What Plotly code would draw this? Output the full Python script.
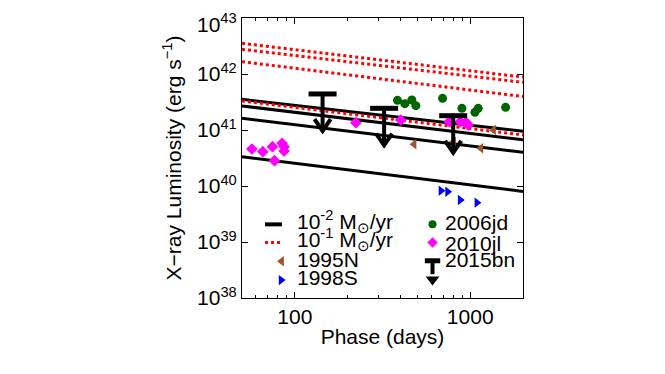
import numpy as np
import plotly.graph_objects as go

# ---------------- data ----------------
phase_model = [50, 2000]
# CSM interaction models, mass-loss rate 1e-2 Msun/yr (black solid)
model_low = [
    [3.53e41, 9.5e40],
    [2.69e41, 6.7e40],
    [1.62e41, 4.0e40],
    [3.33e40, 8.0e39],
]
# mass-loss rate 1e-1 Msun/yr (red dotted)
model_high = [
    [3.53e42, 8.8e41],
    [2.76e42, 7.1e41],
    [1.66e42, 3.95e41],
    [3.30e41, 8.15e40],
]

sn1995N_phase = [479, 804, 1151, 1360]
sn1995N_lum = [5.56e40, 6.18e40, 4.71e40, 1.0e41]

sn1998S_phase = [681, 743, 877, 1092]
sn1998S_lum = [8.24e39, 7.9e39, 5.62e39, 5.04e39]

sn2006jd_phase = [385, 424, 465, 490, 696, 897, 1064, 1111, 1592]
sn2006jd_lum = [3.39e41, 2.95e41, 3.43e41, 2.72e41, 3.68e41, 2.44e41, 2.07e41, 2.44e41, 2.54e41]

sn2010jl_phase = [56.9, 65.7, 74.6, 84.6, 86.9, 86.9, 76.6, 223, 402, 759, 877, 945, 974]
sn2010jl_lum = [4.58e40, 4.1e40, 5.04e40, 5.79e40, 5.04e40, 4.22e40, 2.83e40,
                1.35e41, 1.51e41, 1.41e41, 1.41e41, 1.37e41, 1.23e41]

sn2015bn_phase = [144, 323, 800]
sn2015bn_limit = [4.4e41, 2.44e41, 1.8e41]

x_tickvals = [100, 1000]
x_ticktext = ["100", "1000"]
y_tickvals = [1e38, 1e39, 1e40, 1e41, 1e42, 1e43]
y_ticktext = ["10<sup>38</sup>", "10<sup>39</sup>", "10<sup>40</sup>",
              "10<sup>41</sup>", "10<sup>42</sup>", "10<sup>43</sup>"]

FONT = "Liberation Sans, Arial, Helvetica, sans-serif"

fig = go.Figure()

# model lines
for lum in model_low:
    fig.add_trace(go.Scatter(x=phase_model, y=lum, mode="lines",
                             line=dict(color="black", width=3), showlegend=False))
for lum in model_high:
    fig.add_trace(go.Scatter(x=phase_model, y=lum, mode="lines",
                             line=dict(color="#ff0000", width=3, dash="dot"), showlegend=False))

# observed SNe
fig.add_trace(go.Scatter(x=sn1995N_phase, y=sn1995N_lum, mode="markers",
                         marker=dict(symbol="triangle-left", size=9, color="#a0522d"),
                         showlegend=False))
fig.add_trace(go.Scatter(x=sn1998S_phase, y=sn1998S_lum, mode="markers",
                         marker=dict(symbol="triangle-right", size=9, color="#0000ff"),
                         showlegend=False))
fig.add_trace(go.Scatter(x=sn2006jd_phase, y=sn2006jd_lum, mode="markers",
                         marker=dict(symbol="circle", size=9, color="#006400"),
                         showlegend=False))
fig.add_trace(go.Scatter(x=sn2010jl_phase, y=sn2010jl_lum, mode="markers",
                         marker=dict(symbol="diamond", size=9, color="#ff00ff"),
                         showlegend=False))

# 2015bn upper limits: bar + shaft + chevron arrow head
ARROW_DEC = 0.66   # arrow length in decades
HEAD_DY = 0.21     # chevron height in decades
HEAD_DX = 0.046    # chevron half width in decades
sx, sy, cx, cy = [], [], [], []
for p, lim in zip(sn2015bn_phase, sn2015bn_limit):
    tip = lim * 10 ** (-ARROW_DEC)
    sx += [p, p, None]
    sy += [lim, tip, None]
    cx += [p * 10 ** (-HEAD_DX), p, p * 10 ** HEAD_DX, None]
    cy += [tip * 10 ** HEAD_DY, tip, tip * 10 ** HEAD_DY, None]
fig.add_trace(go.Scatter(x=sx, y=sy, mode="lines", line=dict(color="black", width=4),
                         showlegend=False))
fig.add_trace(go.Scatter(x=cx, y=cy, mode="lines", line=dict(color="black", width=4),
                         showlegend=False))
fig.add_trace(go.Scatter(x=sn2015bn_phase, y=sn2015bn_limit, mode="markers",
                         marker=dict(symbol="line-ew", size=20,
                                     line=dict(color="black", width=5)),
                         showlegend=False))

# ---------------- manual legend (overlay axes in plot-area fractions) ----------------
L = dict(xaxis="x2", yaxis="y2", showlegend=False, hoverinfo="skip")
rows = [0.263, 0.198, 0.131, 0.064]
fig.add_trace(go.Scatter(x=[0.082, 0.142], y=[rows[0]] * 2, mode="lines",
                         line=dict(color="black", width=4), **L))
fig.add_trace(go.Scatter(x=[0.082, 0.142], y=[rows[1]] * 2, mode="lines",
                         line=dict(color="#ff0000", width=3, dash="dot"), **L))
fig.add_trace(go.Scatter(x=[0.141], y=[rows[2]], mode="markers",
                         marker=dict(symbol="triangle-left", size=9, color="#a0522d"), **L))
fig.add_trace(go.Scatter(x=[0.139], y=[rows[3]], mode="markers",
                         marker=dict(symbol="triangle-right", size=9, color="#0000ff"), **L))
rx = 0.678
fig.add_trace(go.Scatter(x=[rx], y=[rows[0]], mode="markers",
                         marker=dict(symbol="circle", size=8, color="#006400"), **L))
fig.add_trace(go.Scatter(x=[rx], y=[rows[1]], mode="markers",
                         marker=dict(symbol="diamond", size=8, color="#ff00ff"), **L))
fig.add_trace(go.Scatter(x=[rx, rx], y=[0.133, 0.085], mode="lines",
                         line=dict(color="black", width=4), **L))
fig.add_trace(go.Scatter(x=[rx], y=[0.133], mode="markers",
                         marker=dict(symbol="line-ew", size=11, line=dict(color="black", width=5)), **L))
fig.add_trace(go.Scatter(x=[rx], y=[0.066], mode="markers",
                         marker=dict(symbol="triangle-down", size=12, color="black"), **L))

legend_texts = [
    (0.188, 0.274, "10<sup>-2</sup> M<sub>⊙</sub>/yr"),
    (0.188, 0.208, "10<sup>-1</sup> M<sub>⊙</sub>/yr"),
    (0.188, 0.139, "1995N"),
    (0.188, 0.073, "1998S"),
    (0.717, 0.270, "2006jd"),
    (0.717, 0.196, "2010jl"),
    (0.717, 0.138, "2015bn"),
]
annotations = []
for x, y, t in legend_texts:
    annotations.append(dict(x=x, y=y, xref="paper", yref="paper", text=t,
                            showarrow=False, xanchor="left", yanchor="middle",
                            font=dict(family=FONT, size=21, color="black")))

# top y tick label drawn as annotation (sits slightly below the tick, as in the original)
annotations.append(dict(x=-0.012, y=np.log10(y_tickvals[-1]), xref="paper", yref="y",
                        text=y_ticktext[-1], showarrow=False, xanchor="right",
                        yanchor="middle", yshift=-5,
                        font=dict(family=FONT, size=21, color="black")))
y_ticktext_axis = y_ticktext[:-1] + [""]

axis_common = dict(showline=True, linecolor="black", linewidth=1, mirror="ticks",
                   ticks="inside", ticklen=6, tickcolor="black", tickwidth=1,
                   showgrid=False, zeroline=False, automargin=False,
                   tickfont=dict(family=FONT, size=21, color="black"))

# the page body has an 8px default margin, so the figure is offset by 8px
fig.update_layout(
    width=657, height=366,
    margin=dict(l=234, r=142, t=10, b=76),
    paper_bgcolor="white", plot_bgcolor="white",
    font=dict(family=FONT, size=21, color="black"),
    showlegend=False,
    xaxis=dict(type="log", range=[np.log10(50), np.log10(2000)],
               tickmode="array", tickvals=x_tickvals, ticktext=x_ticktext,
               minor=dict(ticks="inside", ticklen=3, tickcolor="black", dtick="D1",
                          showgrid=False),
               title=dict(text="Phase (days)", font=dict(family=FONT, size=21), standoff=2),
               **axis_common),
    yaxis=dict(type="log", range=[38, 43],
               tickmode="array", tickvals=y_tickvals, ticktext=y_ticktext_axis,
               title=dict(text="X−ray Luminosity (erg s<sup>−1</sup>)",
                          font=dict(family=FONT, size=21), standoff=9),
               **axis_common),
    xaxis2=dict(overlaying="x", range=[0, 1], visible=False, fixedrange=True),
    yaxis2=dict(overlaying="y", range=[0, 1], visible=False, fixedrange=True),
    annotations=annotations,
)

fig.write_html("out.html")
